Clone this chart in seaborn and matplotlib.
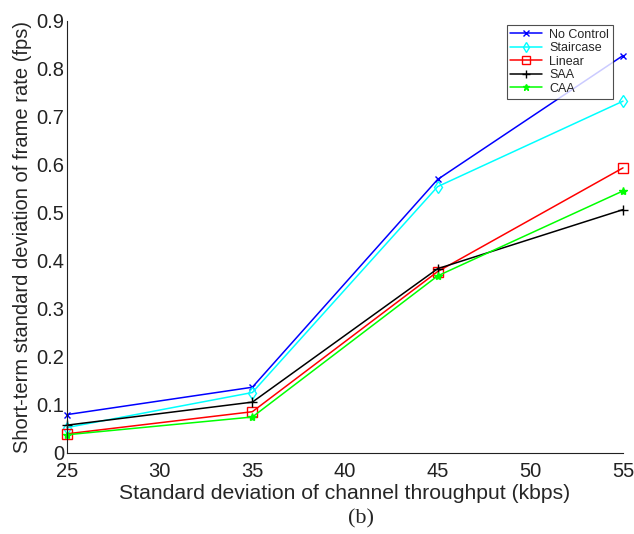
import matplotlib
matplotlib.use("Agg")
import matplotlib.pyplot as plt
import seaborn as sns
import pandas as pd

x_vals = [25, 35, 45, 55]
no_control = [0.080, 0.137, 0.570, 0.828]
staircase = [0.053, 0.126, 0.555, 0.733]
linear = [0.040, 0.086, 0.378, 0.594]
saa = [0.058, 0.106, 0.384, 0.507]
caa = [0.038, 0.075, 0.369, 0.546]

series_names = ["No Control", "Staircase", "Linear", "SAA", "CAA"]
series_vals = [no_control, staircase, linear, saa, caa]
colors = ["#0000ff", "#00ffff", "#ff0000", "#000000", "#00ff00"]
markers = ["x", "d", "s", "+", "*"]
x_ticks = [25, 30, 35, 40, 45, 50, 55]
y_ticks = [0, 0.1, 0.2, 0.3, 0.4, 0.5, 0.6, 0.7, 0.8, 0.9]
y_ticklabels = ["0", "0.1", "0.2", "0.3", "0.4", "0.5", "0.6", "0.7", "0.8", "0.9"]

sns.set_style("white")
plt.rcParams["font.family"] = ["Liberation Sans", "DejaVu Sans"]

fig = plt.figure(figsize=(6.34, 5.34), dpi=100)
ax = fig.add_axes([67/634, 1-453/534, (623-67)/634, (453-21)/534])

for name, vals, c, m in zip(series_names, series_vals, colors, markers):
    df = pd.DataFrame({"x": x_vals, "y": vals})
    filled = m in ("x", "+", "*")
    sns.lineplot(data=df, x="x", y="y", color=c, marker=m, linewidth=1.1,
                 markersize={"x": 5, "d": 6, "s": 7, "+": 7, "*": 6}[m],
                 markerfacecolor=c if filled else "none",
                 markeredgecolor=c, markeredgewidth=1.0,
                 label=name, ax=ax, clip_on=False)

ax.set_xlim(25, 55)
ax.set_ylim(0, 0.9)
ax.set_xticks(x_ticks)
ax.set_yticks(y_ticks)
ax.set_yticklabels(y_ticklabels)
ax.tick_params(direction="in", length=5, labelsize=14.5, width=0.8, colors="#222222")
ax.tick_params(axis="x", pad=6.5)
ax.tick_params(axis="y", pad=2)
for side in ["top", "right"]:
    ax.spines[side].set_visible(False)
for side in ["left", "bottom"]:
    ax.spines[side].set_color("#222222")
    ax.spines[side].set_linewidth(0.8)

ax.set_xlabel("Standard deviation of channel throughput (kbps)", fontsize=15.2, labelpad=2)
ax.set_ylabel("Short-term standard deviation of frame rate (fps)", fontsize=14.5, labelpad=3)

leg = ax.legend(loc="upper right", bbox_to_anchor=(0.993, 1.005), fontsize=9,
                frameon=True, fancybox=False, edgecolor="#222222",
                handlelength=2.5, borderpad=0.3, labelspacing=0.12, handletextpad=0.6,
                markerscale=0.8)
leg.get_frame().set_linewidth(0.8)

fig.text(361/634, (534-519)/534, "(b)", ha="center", va="center", fontsize=16,
         family=["Liberation Serif", "DejaVu Serif"])

fig.savefig("out.png", dpi=100)
